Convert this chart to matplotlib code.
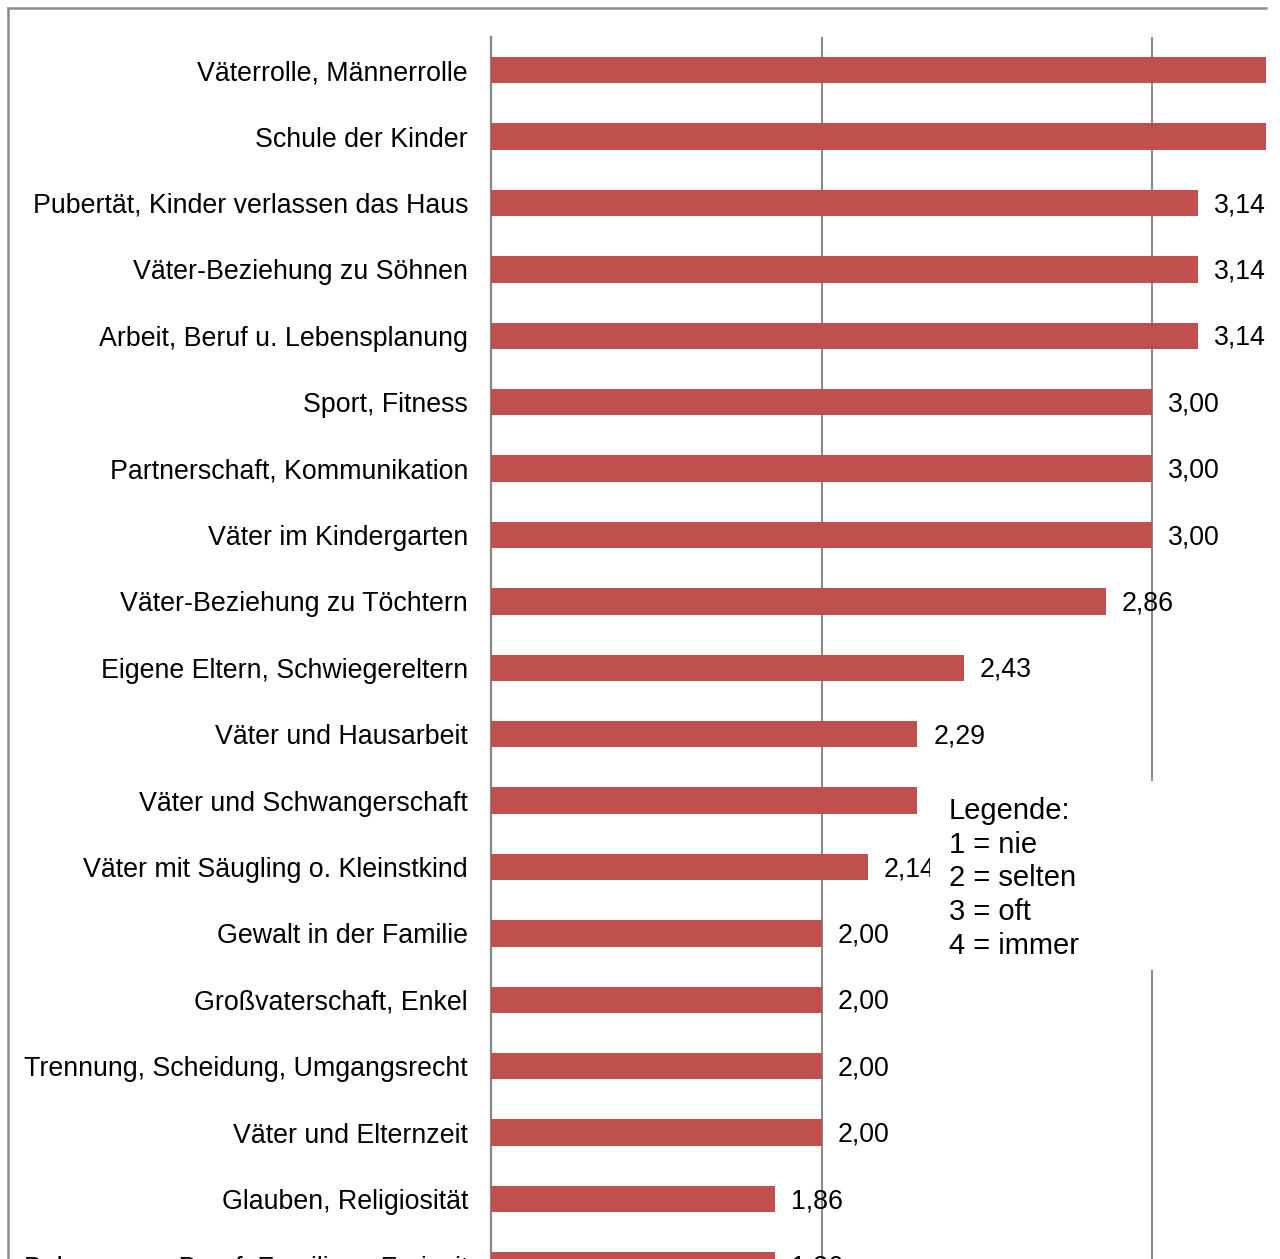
import matplotlib.pyplot as plt
from matplotlib.patches import Rectangle
from matplotlib.lines import Line2D

# data (sorted as shown top to bottom)
categories = [
    "Väterrolle, Männerrolle",
    "Schule der Kinder",
    "Pubertät, Kinder verlassen das Haus",
    "Väter-Beziehung zu Söhnen",
    "Arbeit, Beruf u. Lebensplanung",
    "Sport, Fitness",
    "Partnerschaft, Kommunikation",
    "Väter im Kindergarten",
    "Väter-Beziehung zu Töchtern",
    "Eigene Eltern, Schwiegereltern",
    "Väter und Hausarbeit",
    "Väter und Schwangerschaft",
    "Väter mit Säugling o. Kleinstkind",
    "Gewalt in der Familie",
    "Großvaterschaft, Enkel",
    "Trennung, Scheidung, Umgangsrecht",
    "Väter und Elternzeit",
    "Glauben, Religiosität",
    "Balance von Beruf, Familie u. Freizeit",
]
values = [3.57, 3.43, 3.14, 3.14, 3.14, 3.00, 3.00, 3.00, 2.86, 2.43,
          2.29, 2.29, 2.14, 2.00, 2.00, 2.00, 2.00, 1.86, 1.86]
legend_lines = ["Legende:", "1 = nie", "2 = selten", "3 = oft", "4 = immer"]

BAR_COLOR = "#C0504D"
GRID_COLOR = "#868686"
W, H = 1280, 1259

plt.rcParams["font.family"] = ["Liberation Sans", "DejaVu Sans"]

fig = plt.figure(figsize=(W / 100, H / 100), dpi=100)

# axes geometry in pixels: x=1 at 491, x=4 at 1482.5; top at 37, row pitch 66.4
pitch = 66.4
top = 37
n = len(categories)
x0, x1 = 491, 491 + 3 * 330.5
ax = fig.add_axes([x0 / W, 1 - (top + n * pitch) / H, (x1 - x0) / W, n * pitch / H])

ypos = list(range(n))
ax.barh(ypos, values, height=0.4, color=BAR_COLOR, zorder=3)
ax.set_xlim(1, 4)
ax.set_ylim(n - 0.5, -0.5)

ax.set_yticks(ypos)
ax.set_yticklabels(categories, fontsize=19.3)
ax.tick_params(axis="y", length=0, pad=16.5)
ax.set_xticks([2, 3, 4])
ax.tick_params(axis="x", length=0, labelbottom=False)
ax.grid(axis="x", color=GRID_COLOR, linewidth=1.4, zorder=1)
ax.set_axisbelow(True)
for s in ["top", "right", "bottom"]:
    ax.spines[s].set_visible(False)
ax.spines["left"].set_color(GRID_COLOR)
ax.spines["left"].set_linewidth(1.6)

for y, v in zip(ypos, values):
    ax.annotate(f"{v:.2f}".replace(".", ","), (v, y), xytext=(11.5, -1.5),
                textcoords="offset points", va="center", ha="left",
                fontsize=19.3, zorder=5)

# legend box covering the chart
fig.add_artist(Rectangle((930 / W, 1 - 970 / H), (W - 930) / W, (970 - 781) / H,
                         transform=fig.transFigure, facecolor="white",
                         edgecolor="none", zorder=2))
for i, line in enumerate(legend_lines):
    fig.text(949 / W, 1 - (811 + i * 33.75) / H, line, fontsize=21,
             va="center", ha="left", zorder=3)

# chart cropped at the right edge
fig.add_artist(Rectangle((1266 / W, 0), (W - 1266) / W, 1,
                         transform=fig.transFigure, facecolor="white",
                         edgecolor="none", zorder=4))

# outer chart border (top and left only visible)
fig.add_artist(Line2D([8 / W, 1266 / W], [1 - 8 / H, 1 - 8 / H],
                      transform=fig.transFigure, color="#8c8c8c", linewidth=1.8, zorder=5))
fig.add_artist(Line2D([8 / W, 8 / W], [1 - 8 / H, 0],
                      transform=fig.transFigure, color="#8c8c8c", linewidth=1.8, zorder=5))

fig.savefig("out.png", dpi=100)
